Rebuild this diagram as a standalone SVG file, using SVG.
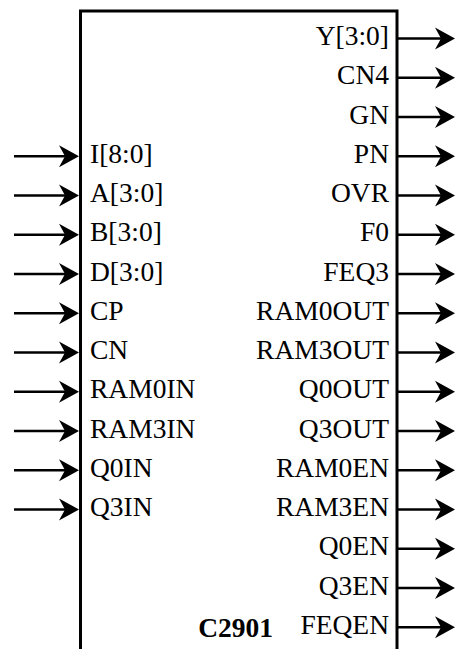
<svg xmlns="http://www.w3.org/2000/svg" width="456" height="649" viewBox="0 0 456 649">
<style>
.box{fill:none;stroke:#000;stroke-width:3}
.lbl{font-family:"Liberation Serif","Times New Roman",serif;font-size:27.5px;fill:#000}
.r{text-anchor:end}
.title{font-weight:bold;text-anchor:end}
.wire{stroke:#000;stroke-width:2.4;fill:none;marker-end:url(#ah)}
</style>
<defs>
<marker id="ah" markerUnits="userSpaceOnUse" markerWidth="24" markerHeight="24" refX="6" refY="11" orient="auto" overflow="visible">
<path d="M0,0 L20,11 L0,22 L6,11 Z" fill="#000"/>
</marker>
</defs>
<rect width="456" height="649" fill="#fff"/>
<g id="C2901">
<rect class="box" x="80.5" y="11" width="316.5" height="700"/>
<text class="lbl r" x="389" y="45">Y[3:0]</text>
<text class="lbl r" x="389" y="84.25">CN4</text>
<text class="lbl r" x="389" y="123.5">GN</text>
<text class="lbl r" x="389" y="162.75">PN</text>
<text class="lbl r" x="389" y="202">OVR</text>
<text class="lbl r" x="389" y="241.25">F0</text>
<text class="lbl r" x="389" y="280.5">FEQ3</text>
<text class="lbl r" x="389" y="319.75">RAM0OUT</text>
<text class="lbl r" x="389" y="359">RAM3OUT</text>
<text class="lbl r" x="389" y="398.25">Q0OUT</text>
<text class="lbl r" x="389" y="437.5">Q3OUT</text>
<text class="lbl r" x="389" y="476.75">RAM0EN</text>
<text class="lbl r" x="389" y="516">RAM3EN</text>
<text class="lbl r" x="389" y="555.25">Q0EN</text>
<text class="lbl r" x="389" y="594.5">Q3EN</text>
<text class="lbl r" x="389" y="633.75">FEQEN</text>
<text class="lbl" x="90" y="162.75">I[8:0]</text>
<text class="lbl" x="90" y="202">A[3:0]</text>
<text class="lbl" x="90" y="241.25">B[3:0]</text>
<text class="lbl" x="90" y="280.5">D[3:0]</text>
<text class="lbl" x="90" y="319.75">CP</text>
<text class="lbl" x="90" y="359">CN</text>
<text class="lbl" x="90" y="398.25">RAM0IN</text>
<text class="lbl" x="90" y="437.5">RAM3IN</text>
<text class="lbl" x="90" y="476.75">Q0IN</text>
<text class="lbl" x="90" y="516">Q3IN</text>
<text class="lbl title" x="273" y="637">C2901</text>
</g>
<g id="connectors">
<line class="wire" x1="397" y1="38.5" x2="441" y2="38.5"/>
<line class="wire" x1="397" y1="77.75" x2="441" y2="77.75"/>
<line class="wire" x1="397" y1="117" x2="441" y2="117"/>
<line class="wire" x1="397" y1="156.25" x2="441" y2="156.25"/>
<line class="wire" x1="397" y1="195.5" x2="441" y2="195.5"/>
<line class="wire" x1="397" y1="234.75" x2="441" y2="234.75"/>
<line class="wire" x1="397" y1="274" x2="441" y2="274"/>
<line class="wire" x1="397" y1="313.25" x2="441" y2="313.25"/>
<line class="wire" x1="397" y1="352.5" x2="441" y2="352.5"/>
<line class="wire" x1="397" y1="391.75" x2="441" y2="391.75"/>
<line class="wire" x1="397" y1="431" x2="441" y2="431"/>
<line class="wire" x1="397" y1="470.25" x2="441" y2="470.25"/>
<line class="wire" x1="397" y1="509.5" x2="441" y2="509.5"/>
<line class="wire" x1="397" y1="548.75" x2="441" y2="548.75"/>
<line class="wire" x1="397" y1="588" x2="441" y2="588"/>
<line class="wire" x1="397" y1="627.25" x2="441" y2="627.25"/>
<line class="wire" x1="14" y1="156.25" x2="65" y2="156.25"/>
<line class="wire" x1="14" y1="195.5" x2="65" y2="195.5"/>
<line class="wire" x1="14" y1="234.75" x2="65" y2="234.75"/>
<line class="wire" x1="14" y1="274" x2="65" y2="274"/>
<line class="wire" x1="14" y1="313.25" x2="65" y2="313.25"/>
<line class="wire" x1="14" y1="352.5" x2="65" y2="352.5"/>
<line class="wire" x1="14" y1="391.75" x2="65" y2="391.75"/>
<line class="wire" x1="14" y1="431" x2="65" y2="431"/>
<line class="wire" x1="14" y1="470.25" x2="65" y2="470.25"/>
<line class="wire" x1="14" y1="509.5" x2="65" y2="509.5"/>
</g>
</svg>
